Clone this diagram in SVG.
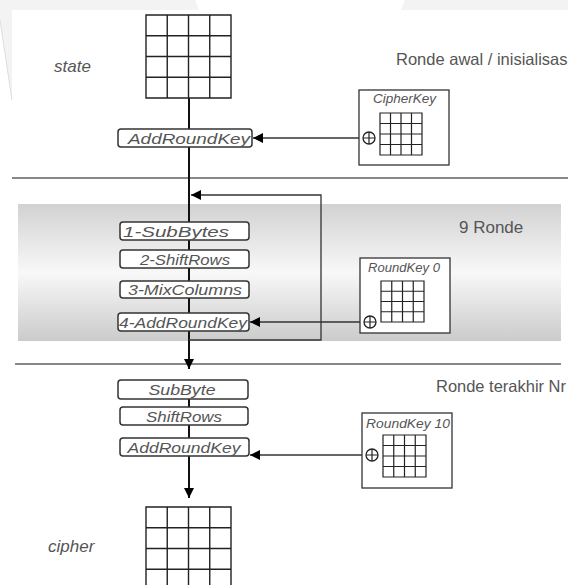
<svg xmlns="http://www.w3.org/2000/svg" width="568" height="585" viewBox="0 0 568 585">
<defs>
<linearGradient id="band" x1="0" y1="0" x2="0" y2="1">
<stop offset="0" stop-color="#d2d2d2"/>
<stop offset="0.5" stop-color="#f8f8f8"/>
<stop offset="1" stop-color="#cbcbcb"/>
</linearGradient>
<marker id="ah" viewBox="0 0 10 10" refX="10" refY="5" markerWidth="10" markerHeight="10" markerUnits="userSpaceOnUse" orient="auto">
<path d="M0,0 L10,5 L0,10 Z" fill="#000"/>
</marker>
</defs>
<style>
.box{fill:#fff;stroke:#333;stroke-width:1.5}
.lbl{font-family:"Liberation Sans",Arial,sans-serif;font-style:italic;font-size:15px;fill:#555;text-anchor:middle}
.klbl{font-family:"Liberation Sans",Arial,sans-serif;font-style:italic;font-size:12px;fill:#555}
.side{font-family:"Liberation Sans",Arial,sans-serif;font-size:16.5px;fill:#555}
.it{font-family:"Liberation Sans",Arial,sans-serif;font-style:italic;font-size:17px;fill:#555}
.grid{fill:none;stroke:#222;stroke-width:1.4}
.kgrid{fill:none;stroke:#222;stroke-width:1.2}
.sep{stroke:#888;stroke-width:2}
.main{stroke:#111;stroke-width:2;fill:none}
.key{stroke:#333;stroke-width:1.3;fill:none}
.kbox{fill:#fff;stroke:#333;stroke-width:1.3}
</style>
<rect width="568" height="585" fill="#fff"/>
<path d="M0,0 H195 L199,10 H12 V100 L0,20 Z" fill="#f3f3f3"/>
<path d="M405,0 H568 V10 H401 Z" fill="#f3f3f3"/>
<path d="M0,20 L12,100" stroke="#ddd" stroke-width="1"/>
<rect x="18" y="204" width="543" height="137" fill="url(#band)"/>
<line class="sep" x1="12" y1="178" x2="568" y2="178"/>
<line class="sep" x1="15" y1="364" x2="561" y2="364"/>
<text class="side" x="396" y="65">Ronde awal / inisialisas</text>
<text class="side" x="459" y="233" style="font-size:17px">9 Ronde</text>
<text class="side" x="436" y="392" textLength="130" lengthAdjust="spacingAndGlyphs">Ronde terakhir Nr</text>
<g id="connectors">
<line class="main" x1="189" y1="98" x2="189" y2="129"/>
<line class="main" x1="189" y1="147" x2="189" y2="222"/>
<line class="main" x1="189" y1="240" x2="189" y2="250"/>
<line class="main" x1="189" y1="268" x2="189" y2="281"/>
<line class="main" x1="189" y1="298" x2="189" y2="313"/>
<line class="main" x1="189" y1="331" x2="189" y2="369" marker-end="url(#ah)"/>
<line class="main" x1="189" y1="399" x2="189" y2="407"/>
<line class="main" x1="189" y1="425" x2="189" y2="438"/>
<line class="main" x1="189" y1="456" x2="189" y2="498" marker-end="url(#ah)"/>
<path class="key" d="M189,340 H321 V195 H191" marker-end="url(#ah)"/>
<line class="key" x1="363" y1="138" x2="253" y2="138" marker-end="url(#ah)"/>
<line class="key" x1="364" y1="322" x2="250" y2="322" marker-end="url(#ah)"/>
<line class="key" x1="366" y1="455" x2="250" y2="455" marker-end="url(#ah)"/>
</g>
<g id="state">
<text class="it" x="54" y="72">state</text>
<path class="grid" d="M146,15 h85 v83 h-85 z M167.25,15 v83 M188.5,15 v83 M209.75,15 v83 M146,35.75 h85 M146,56.5 h85 M146,77.25 h85"/>
</g>
<g id="addroundkey0">
<rect class="box" x="118" y="129" width="134" height="18" rx="3"/>
<text class="lbl" x="189" y="144" textLength="122" lengthAdjust="spacingAndGlyphs">AddRoundKey</text>
</g>
<g id="cipherkey">
<rect class="kbox" x="359" y="90" width="90" height="75"/>
<text class="klbl" x="373" y="103" textLength="63" lengthAdjust="spacingAndGlyphs">CipherKey</text>
<path class="kgrid" d="M380,113 h42 v42 h-42 z M390.5,113 v42 M401,113 v42 M411.5,113 v42 M380,123.5 h42 M380,134 h42 M380,144.5 h42"/>
<circle cx="369" cy="138" r="6" fill="#fff" stroke="#222" stroke-width="1.3"/>
<path d="M363,138 h12 M369,132 v12" stroke="#222" stroke-width="1.2"/>
</g>
<g id="subbytes">
<rect class="box" x="120" y="222" width="129" height="18" rx="3"/>
<text class="lbl" x="176" y="237" textLength="106" lengthAdjust="spacingAndGlyphs">1-SubBytes</text>
</g>
<g id="shiftrows">
<rect class="box" x="120" y="250" width="129" height="18" rx="3"/>
<text class="lbl" x="185" y="265" textLength="90" lengthAdjust="spacingAndGlyphs">2-ShiftRows</text>
</g>
<g id="mixcolumns">
<rect class="box" x="120" y="281" width="129" height="17" rx="3"/>
<text class="lbl" x="185" y="295" textLength="114" lengthAdjust="spacingAndGlyphs">3-MixColumns</text>
</g>
<g id="addroundkey1">
<rect class="box" x="118" y="313" width="131" height="18" rx="3"/>
<text class="lbl" x="183" y="328" textLength="128" lengthAdjust="spacingAndGlyphs">4-AddRoundKey</text>
</g>
<g id="roundkey0">
<rect class="kbox" x="360" y="258" width="90" height="75"/>
<text class="klbl" x="368" y="272" textLength="72" lengthAdjust="spacingAndGlyphs">RoundKey 0</text>
<path class="kgrid" d="M381,281 h43 v41 h-43 z M391.75,281 v41 M402.5,281 v41 M413.25,281 v41 M381,291.25 h43 M381,301.5 h43 M381,311.75 h43"/>
<circle cx="370" cy="322" r="6" fill="#fff" stroke="#222" stroke-width="1.3"/>
<path d="M364,322 h12 M370,316 v12" stroke="#222" stroke-width="1.2"/>
</g>
<g id="subbyte">
<rect class="box" x="118" y="380" width="130" height="19" rx="3"/>
<text class="lbl" x="182" y="395" textLength="67" lengthAdjust="spacingAndGlyphs">SubByte</text>
</g>
<g id="shiftrows2">
<rect class="box" x="120" y="407" width="128" height="18" rx="3"/>
<text class="lbl" x="184" y="422" textLength="76" lengthAdjust="spacingAndGlyphs">ShiftRows</text>
</g>
<g id="addroundkey2">
<rect class="box" x="120" y="438" width="129" height="18" rx="3"/>
<text class="lbl" x="184" y="453" textLength="113" lengthAdjust="spacingAndGlyphs">AddRoundKey</text>
</g>
<g id="roundkey10">
<rect class="kbox" x="362" y="413" width="90" height="75"/>
<text class="klbl" x="366" y="428" textLength="84" lengthAdjust="spacingAndGlyphs">RoundKey 10</text>
<path class="kgrid" d="M383,435 h43 v42 h-43 z M393.75,435 v42 M404.5,435 v42 M415.25,435 v42 M383,445.5 h43 M383,456 h43 M383,466.5 h43"/>
<circle cx="372" cy="455" r="6" fill="#fff" stroke="#222" stroke-width="1.3"/>
<path d="M366,455 h12 M372,449 v12" stroke="#222" stroke-width="1.2"/>
</g>
<g id="cipher">
<text class="it" x="48" y="552">cipher</text>
<path class="grid" d="M146,507 h85 v90 h-85 z M167.25,507 v90 M188.5,507 v90 M209.75,507 v90 M146,527.75 h85 M146,548.5 h85 M146,569.25 h85"/>
</g>
</svg>
